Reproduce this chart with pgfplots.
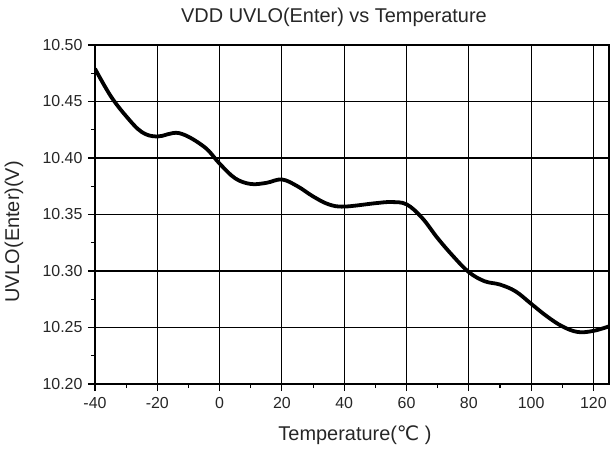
\documentclass[border=0pt]{standalone}
\usepackage{pgfplots}
\pgfplotsset{compat=1.18}
\usepackage{fontspec}
\setmainfont{Liberation Sans}
\newfontfamily\dejavu{DejaVu Sans}
\begin{document}
\begin{tikzpicture}
\useasboundingbox (-95bp,-68bp) rectangle (516bp,384bp);
\begin{axis}[
  at={(0,0)}, anchor=south west,
  scale only axis, width=514bp, height=339bp,
  xmin=-40, xmax=125, ymin=10.20, ymax=10.50,
  xtick={-40,-20,0,20,40,60,80,100,120},
  ytick={10.20,10.25,10.30,10.35,10.40,10.45,10.50},
  minor x tick num=1, minor y tick num=1,
  tick align=outside, tick pos=left,
  major tick length=7bp, minor tick length=4bp,
  grid=major, major grid style={black, line width=1.1pt},
  axis line style={black, line width=1.2pt},
  every tick/.style={black, line width=1.1pt},
  /pgf/number format/assume math mode=true,
  yticklabel style={xshift=-2bp, /pgf/number format/fixed, /pgf/number format/fixed zerofill, /pgf/number format/precision=2},
  xticklabel style={yshift=-3bp},
  ticklabel style={font=\fontsize{16}{18}\selectfont, text=black!85},
]
\addplot[black, line width=3.8pt, smooth, tension=0.6] coordinates {
(-40,10.479) (-35,10.455) (-30,10.437) (-25,10.423) (-20,10.419) (-13,10.422)
(-5,10.410) (0,10.395) (5,10.382) (10,10.377) (15,10.378) (20,10.381)
(25,10.375) (30,10.366) (35,10.359) (40,10.357) (50,10.360) (55,10.361)
(60,10.359) (65,10.347) (70,10.329) (75,10.313) (80,10.299) (85,10.291)
(90,10.288) (95,10.282) (100,10.271) (105,10.260) (110,10.251) (115,10.246)
(120,10.247) (125,10.251)
};
\end{axis}
\node[font=\fontsize{20}{24}\selectfont, text=black!85] at (239bp,367bp) {VDD UVLO(Enter) vs Temperature};
\node[font=\fontsize{20}{24}\selectfont, text=black!85, rotate=90] at (-81bp,152bp) {UVLO(Enter)(V)};
\node[font=\fontsize{20}{24}\selectfont, text=black!85] at (260bp,-51bp) {Temperature({\dejavu ℃} )};
\end{tikzpicture}
\end{document}
